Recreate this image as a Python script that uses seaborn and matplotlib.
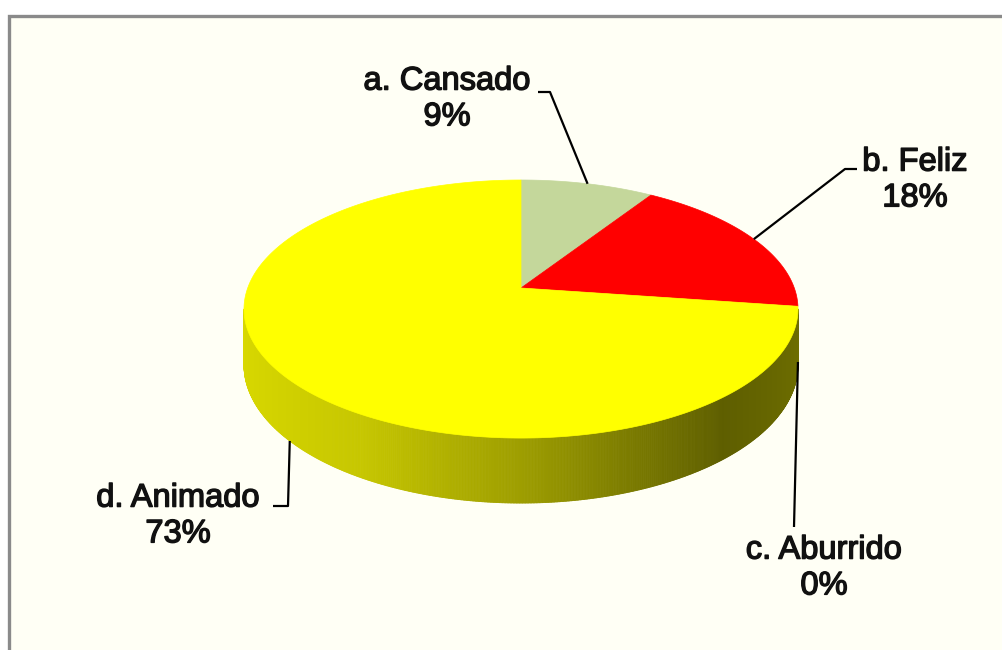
"""Gráfico de pastel 3D (estilo Excel) con perspectiva: estado de ánimo."""
import matplotlib
matplotlib.use("Agg")
import matplotlib.pyplot as plt
import matplotlib.patheffects as pe
import numpy as np
import seaborn as sns
from matplotlib.collections import PolyCollection
from matplotlib.colors import to_rgb
from matplotlib.patches import Rectangle

# --- datos ---
categories = ["a. Cansado", "b. Feliz", "c. Aburrido", "d. Animado"]
counts = [1, 2, 0, 8]
colors = ["#C4D79B", "#FF0000", "#8064A2", "#FFFF00"]

# --- layout (pixeles, origen arriba-izquierda) ---
W, H = 1003, 650
APEX_X, APEX_Y = 521, 288   # centro del pastel proyectado
RAD_X, RAD_Y = 273.3, 125.6
PERSP = 0.163               # fuerza de la perspectiva
SIDE = 54.4                 # grosor del disco
label_pos = [(447, 99), (915, 180), (824, 568), (178, 516)]
label_elbow = [((550, 92), (538, 92)), ((845, 169), (857, 169)),
               ((794, 527), (794, 527)), ((288, 506), (273, 506))]
# sombreado de la pared lateral según la posición horizontal
SHADE_X = [-1.0, -0.5, 0.0, 0.35, 0.65, 1.0]
SHADE_F = [0.85, 0.78, 0.62, 0.48, 0.37, 0.43]

sns.set_theme(style="white")
plt.rcParams["font.family"] = ["Liberation Sans", "DejaVu Sans"]


def project(phi_deg, z=0.0):
    """Punto del borde del disco (ángulo en grados, z=0 arriba, z=1 abajo)."""
    r = np.radians(phi_deg)
    x, y = np.cos(r), np.sin(r)
    w = 1 + PERSP * y
    return APEX_X + RAD_X * x / w, APEX_Y - RAD_Y * y / w + z * SIDE / w


fracs = np.array(counts, dtype=float) / sum(counts)
cum = np.concatenate([[0], np.cumsum(fracs)])
bounds = 90 - 360 * cum  # sentido horario desde las 12


def slice_at(phi_deg):
    f = ((90 - phi_deg) % 360) / 360
    return min(np.searchsorted(cum, f, side="right") - 1, len(counts) - 1)


fig = plt.figure(figsize=(W / 100, H / 100), dpi=100, facecolor="white")
ax = fig.add_axes([0, 0, 1, 1])
ax.set_xlim(0, W)
ax.set_ylim(H, 0)
ax.add_patch(Rectangle((9.5, 15.5), W, H, facecolor="#FFFFF5",
                       edgecolor="#8a8a8a", linewidth=2.4, zorder=0))

# pared lateral visible (entre las dos siluetas)
edge = np.degrees(np.arcsin(PERSP))
theta = np.linspace(-180 + edge, -edge, 601)
polys, fcs = [], []
for t0, t1 in zip(theta[:-1], theta[1:]):
    tm = (t0 + t1) / 2
    polys.append([project(t0), project(t1), project(t1, 1), project(t0, 1)])
    shade = np.interp(np.cos(np.radians(tm)), SHADE_X, SHADE_F)
    fcs.append(np.array(to_rgb(colors[slice_at(tm)])) * shade)
ax.add_collection(PolyCollection(polys, facecolors=fcs, edgecolors=fcs,
                                 linewidths=0.6, zorder=1))

# cara superior
for i, c in enumerate(colors):
    if fracs[i] == 0:
        continue
    n = max(int(abs(bounds[i] - bounds[i + 1])), 2) * 2
    xs, ys = project(np.linspace(bounds[i], bounds[i + 1], n))
    ax.fill(np.r_[APEX_X, xs], np.r_[APEX_Y, ys], facecolor=c, edgecolor=c,
            linewidth=0.5, zorder=3)

# etiquetas con líneas guía
for i, cat in enumerate(categories):
    mid = 90 - 360 * (cum[i] + fracs[i] / 2)
    front = np.sin(np.radians(mid)) < 0
    ax_x, ax_y = project(mid, 1.0 if front else 0.0)
    (e1x, e1y), (e2x, e2y) = label_elbow[i]
    ax.plot([ax_x, e1x, e2x], [ax_y, e1y, e2y], color="black",
            lw=1.6, zorder=5, solid_capstyle="butt")
    tx, ty = label_pos[i]
    ax.text(tx, ty, f"{cat}\n{fracs[i] * 100:.0f}%", ha="center", va="center",
            multialignment="center", fontsize=23.5, color="#111111", zorder=6,
            path_effects=[pe.withStroke(linewidth=1.0, foreground="#111111")])

ax.axis("off")

fig.savefig("out.png", dpi=100, facecolor="white")
